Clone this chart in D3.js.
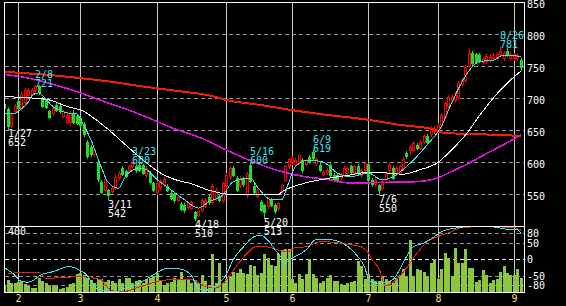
<!DOCTYPE html>
<html>
<head>
<meta charset="utf-8">
<script src="https://cdn.jsdelivr.net/npm/d3@7"></script>
<style>
html, body { margin: 0; padding: 0; background: #000; }
svg { display: block; }
text { font-family: "DejaVu Sans Mono", monospace; font-size: 10px; }
</style>
</head>
<body>
<svg id="chart" width="566" height="306"></svg>
<script>
const dates = ["1/26","1/27","1/28","1/31",
 "2/1","2/2","2/3","2/4","2/7","2/8","2/9","2/10","2/14","2/15","2/16","2/17","2/18","2/21","2/22","2/24","2/25","2/28",
 "3/1","3/2","3/3","3/4","3/7","3/8","3/9","3/10","3/11","3/14","3/15","3/16","3/17","3/18","3/22","3/23","3/24","3/25","3/28","3/29","3/30","3/31",
 "4/1","4/4","4/5","4/6","4/7","4/8","4/11","4/12","4/13","4/14","4/15","4/18","4/19","4/20","4/21","4/22","4/25","4/26","4/27","4/28",
 "5/2","5/6","5/9","5/10","5/11","5/12","5/13","5/16","5/17","5/18","5/19","5/20","5/23","5/24","5/25","5/26","5/27","5/30","5/31",
 "6/1","6/2","6/3","6/6","6/7","6/8","6/9","6/10","6/13","6/14","6/15","6/16","6/17","6/20","6/21","6/22","6/23","6/24","6/27","6/28","6/29","6/30",
 "7/1","7/4","7/5","7/6","7/7","7/8","7/11","7/12","7/13","7/14","7/15","7/19","7/20","7/21","7/22","7/25","7/26","7/27","7/28","7/29",
 "8/1","8/2","8/3","8/4","8/5","8/8","8/9","8/10","8/12","8/15","8/16","8/17","8/18","8/19","8/22","8/23","8/24","8/25","8/26","8/29","8/30","8/31",
 "9/1","9/2","9/5"];

const open = [690,683,657,680, 695,684,693,705,706,712,718,700,697,679,676,689,687,672,663,662,677,672,
 668,660,632,624,612,598,568,556,556,555,560,576,591,586,588,593,594,596,595,579,583,567,
 553,561,566,563,552,549,541,534,533,529,528,522,517,525,531,546,537,543,547,541,
 562,576,591,575,564,573,548,596,562,547,537,533,531,541,533,528,554,572,594,
 600,597,601,603,597,608,615,598,596,582,584,596,580,579,575,580,583,593,583,594,580,588,
 597,572,566,564,560,573,588,591,582,583,591,614,619,619,627,622,632,640,643,648,
 650,658,671,687,697,697,702,722,728,750,770,768,767,756,758,759,762,763,768,763,773,762,
 762,763,760];
const high = [692,686,676,690, 697,709,716,716,716,721,720,702,699,681,686,692,689,681,677,680,681,675,
 670,662,634,627,622,602,572,577,558,562,580,586,594,588,596,600,597,598,597,593,586,569,
 570,573,576,566,555,551,548,537,536,538,539,524,525,543,544,549,565,560,550,569,
 583,594,594,578,578,576,584,600,565,560,540,535,546,544,536,538,566,596,606,
 609,606,613,606,605,611,619,606,599,588,590,598,583,581,583,594,592,596,596,597,590,600,
 600,575,578,566,572,585,598,594,593,596,608,617,627,633,630,635,643,643,656,656,
 661,677,695,705,706,710,726,732,752,777,773,771,770,764,770,768,770,772,781,773,778,772,
 771,770,762];
const low = [681,652,655,678, 682,682,690,703,704,709,706,686,684,668,674,680,677,670,661,658,661,659,
 655,640,607,610,610,571,551,553,542,552,558,574,580,576,586,591,585,586,581,576,566,554,
 550,558,563,554,542,538,539,525,522,527,526,510,515,523,529,534,534,540,539,538,
 560,573,578,555,561,563,545,568,551,545,523,513,528,531,520,525,552,570,591,
 597,594,599,585,595,598,603,595,586,580,582,578,570,568,573,578,581,583,581,580,577,586,
 570,562,563,550,557,571,585,573,579,581,588,606,612,617,620,620,630,629,640,645,
 647,655,668,684,694,693,699,719,725,748,752,755,756,753,755,757,759,760,765,760,765,759,
 759,760,744];
const close = [684,656,674,688, 684,707,713,712,713,719,709,688,686,670,684,682,679,679,674,676,663,661,
 658,643,609,613,619,573,553,573,548,559,577,583,582,578,594,599,587,588,583,590,568,556,
 567,570,573,556,544,541,546,527,525,536,537,513,523,541,541,537,562,557,541,567,
 580,591,580,557,574,566,581,570,553,557,525,522,544,533,523,536,564,593,604,
 607,603,611,588,603,600,606,604,588,585,588,580,572,570,580,591,590,585,593,583,588,598,
 572,566,572,557,570,582,596,575,591,593,605,609,624,630,622,632,640,631,653,653,
 658,674,692,702,702,705,723,729,748,770,754,757,759,761,766,764,767,769,773,770,767,769,
 768,767,748];
const volume = [36,71,53,53,61,61,47,36,22,22,83,67,53,36,41,36,20,27,30,51,53,111,
 118,101,87,73,57,77,81,61,73,67,53,81,53,83,83,57,67,73,57,77,87,97,
 118,67,41,57,61,87,77,121,73,81,53,73,57,101,67,36,228,57,174,53,
 77,93,121,118,138,118,107,162,158,101,113,228,208,163,158,228,255,258,259,
 77,57,107,77,107,198,107,87,57,67,87,101,67,67,47,41,53,61,67,188,158,77,
 107,77,67,67,97,81,67,57,87,101,138,93,315,93,138,133,121,93,178,198,
 81,138,239,208,97,269,178,178,259,148,148,61,73,131,101,57,73,81,121,158,118,101,
 101,138,87];

// moving averages, read at [day index, price]
const maShort = [[0,676],[3,676],[5,683],[7,694],[8,704],[10,708],[12,698],[14,687],[18,677],[21,675],
 [23,657],[25,635],[28,592],[30,568],[33,559],[35,578],[39,590],[41,588],[44,573],[48,557],[52,541],
 [56,528],[59,538],[63,548],[66,569],[71,575],[73,561],[77,541],[80,541],[82,567],[84,593],[88,603],
 [92,600],[96,583],[100,577],[105,583],[109,572],[113,580],[118,603],[122,627],[126,655],[129,692],
 [132,725],[135,749],[137,757],[141,759],[144,767],[149,765]];
const maMid = [[0,702],[8,700],[13,697],[18,687],[23,679],[26,668],[30,651],[36,622],[41,599],[45,583],
 [49,573],[54,566],[59,556],[64,550],[68,549],[79,549],[80,553],[86,566],[92,573],[100,580],[105,584],
 [110,583],[115,581],[120,588],[125,599],[129,619],[133,642],[137,672],[142,706],[146,728],[149,742]];
const maLong = [[0,737],[8,730],[13,723],[22,708],[28,696],[35,683],[42,668],[49,652],[57,637],[64,619],
 [72,600],[80,585],[88,576],[93,573],[100,567],[108,568],[118,569],[125,575],[129,585],[134,598],
 [139,613],[144,627],[149,642]];
const maLonger = [[0,741],[8,738],[15,735],[22,731],[30,726],[40,718],[50,711],[60,703],[64,697],[74,689],
 [83,681],[94,673],[105,666],[114,658],[124,651],[127,645],[135,644],[143,642],[149,641]];

// oscillator, read at [day index, value]
const oscFast = [[0,-25],[3,-48],[5,-68],[7,-70],[11,-46],[14,-38],[19,-22],[21,-30],[24,-50],[26,-83],
 [28,-95],[32,-100],[35,-88],[39,-73],[43,-48],[46,-30],[48,-27],[51,-30],[54,-50],[56,-88],[58,-95],
 [61,-80],[64,-48],[66,-2],[69,38],[72,69],[74,74],[76,59],[78,30],[80,5],[81,-10],[83,3],[87,28],
 [90,61],[93,61],[96,56],[99,40],[102,8],[104,-25],[105,-60],[106,-70],[108,-73],[110,-70],[112,-63],
 [114,-33],[116,8],[118,38],[121,50],[124,69],[126,84],[131,97],[134,100],[140,100],[146,91],[148,91],[149,79]];
const oscSlow = [[1,-43],[5,-41],[10,-40],[12,-58],[21,-53],[24,-51],[26,-58],[28,-63],[30,-88],[32,-98],
 [35,-98],[38,-88],[41,-78],[44,-68],[47,-63],[54,-61],[58,-83],[61,-88],[64,-63],[68,-7],[73,40],
 [76,38],[79,28],[82,23],[84,36],[87,38],[91,54],[95,52],[99,46],[103,38],[105,20],[106,0],[108,-27],
 [110,-81],[113,-63],[116,-27],[119,18],[122,54],[125,69],[129,84],[132,97],[138,100],[147,97],[149,89]];

const priceTicks = [850, 800, 750, 700, 650, 600, 550];
const oscTicks = [80, 50, 0, -50, -80];
const volMaxLabel = "400";
const peakIdx = [1, 9, 30, 37, 55, 71, 75, 89, 108, 143];
const peakKind = ["low","high","low","high","low","high","low","high","low","high"];

const upColor = "#ff0000", downColor = "#22dd22";
const svg = d3.select("#chart");
svg.append("rect").attr("width", 566).attr("height", 306).attr("fill", "#000");

const x = d3.scaleLinear().domain([0, dates.length - 1]).range([4.13, 520.9]);
const y = d3.scaleLinear().domain([500, 850]).range([226, 2]);
const yOsc = d3.scaleLinear().domain([-100, 100]).range([292, 226.6]);
const yVol = d3.scaleLinear().domain([0, 400]).range([292, 226]);
const px = i => Math.round(x(i));
const idx = d3.range(dates.length);

const defs = svg.append("defs");
defs.append("clipPath").attr("id", "clipMain").append("rect").attr("x", 5).attr("y", 3).attr("width", 519).attr("height", 223);
defs.append("clipPath").attr("id", "clipLow").append("rect").attr("x", 5).attr("y", 226).attr("width", 519).attr("height", 66);

// grid
const grid = svg.append("g").attr("shape-rendering", "crispEdges");
grid.selectAll(".pg").data(priceTicks.slice(1)).enter().append("line")
  .attr("x1", 5).attr("x2", 524)
  .attr("y1", d => Math.round(y(d)) + 0.5).attr("y2", d => Math.round(y(d)) + 0.5)
  .attr("stroke", "#969696").attr("stroke-dasharray", "4,3");
grid.selectAll(".og").data(oscTicks).enter().append("line")
  .attr("x1", 5).attr("x2", 524)
  .attr("y1", d => Math.round(yOsc(d)) + 0.5).attr("y2", d => Math.round(yOsc(d)) + 0.5)
  .attr("stroke", d => d === 0 ? "#ffffff" : "#969696").attr("stroke-dasharray", "4,3");

const monthStarts = idx.filter(i => i > 0 && dates[i].split("/")[0] !== dates[i - 1].split("/")[0]);
grid.selectAll(".mg").data(monthStarts).enter().append("line")
  .attr("x1", i => px(i) + 0.5).attr("x2", i => px(i) + 0.5)
  .attr("y1", 2).attr("y2", 292)
  .attr("stroke", "#c8c8c8");

// volume
svg.append("g").attr("clip-path", "url(#clipLow)").attr("shape-rendering", "crispEdges")
  .selectAll("rect").data(idx).enter().append("rect")
  .attr("x", i => px(i) - 1).attr("width", 3)
  .attr("y", i => Math.round(yVol(volume[i])))
  .attr("height", i => 292 - Math.round(yVol(volume[i])))
  .attr("fill", "#8cc63f");

// candles
const cg = svg.append("g").attr("clip-path", "url(#clipMain)").attr("shape-rendering", "crispEdges");
cg.selectAll(".wick").data(idx).enter().append("line")
  .attr("x1", i => px(i) + 0.5).attr("x2", i => px(i) + 0.5)
  .attr("y1", i => Math.round(y(high[i]))).attr("y2", i => Math.round(y(low[i])) + 1)
  .attr("stroke", i => close[i] >= open[i] ? upColor : downColor);
cg.selectAll(".up").data(idx.filter(i => close[i] >= open[i])).enter().append("rect")
  .attr("x", i => px(i) - 0.5).attr("width", 2)
  .attr("y", i => Math.round(y(close[i])) + 0.5)
  .attr("height", i => Math.max(1, Math.round(y(open[i])) - Math.round(y(close[i]))))
  .attr("fill", "#000").attr("stroke", upColor);
cg.selectAll(".down").data(idx.filter(i => close[i] < open[i])).enter().append("rect")
  .attr("x", i => px(i) - 1).attr("width", 3)
  .attr("y", i => Math.round(y(open[i])))
  .attr("height", i => Math.max(1, Math.round(y(close[i])) - Math.round(y(open[i])) + 1))
  .attr("fill", downColor);

// moving averages
const maLine = d3.line().x(d => x(d[0])).y(d => y(d[1])).curve(d3.curveMonotoneX);
const mg = svg.append("g").attr("clip-path", "url(#clipMain)").attr("fill", "none");
mg.append("path").attr("d", maLine(maLonger)).attr("stroke", "#f02000").attr("stroke-width", 2).attr("shape-rendering", "crispEdges");
mg.append("path").attr("d", maLine(maLong)).attr("stroke", "#e010e0").attr("stroke-width", 1.6).attr("shape-rendering", "crispEdges");
mg.append("path").attr("d", maLine(maMid)).attr("stroke", "#ffffff").attr("stroke-width", 1).attr("shape-rendering", "crispEdges");
mg.append("path").attr("d", maLine(maShort)).attr("stroke", "#40e0f0").attr("stroke-width", 1).attr("shape-rendering", "crispEdges");

// oscillator
const oscLine = d3.line().x(d => x(d[0])).y(d => yOsc(d[1])).curve(d3.curveMonotoneX);
const og = svg.append("g").attr("clip-path", "url(#clipLow)").attr("fill", "none").attr("shape-rendering", "crispEdges");
og.append("path").attr("d", oscLine(oscSlow)).attr("stroke", "#f02000");
og.append("path").attr("d", oscLine(oscFast)).attr("stroke", "#40e0f0");

// frame
const frame = svg.append("g").attr("stroke", "#fff").attr("shape-rendering", "crispEdges");
[[4.5, 2, 4.5, 293], [524.5, 2, 524.5, 293], [4, 2.5, 525, 2.5], [4, 226.5, 525, 226.5], [4, 292.5, 525, 292.5]]
  .forEach(s => frame.append("line").attr("x1", s[0]).attr("y1", s[1]).attr("x2", s[2]).attr("y2", s[3]));

// axis labels
svg.selectAll(".pl").data(priceTicks).enter().append("text")
  .attr("x", 527).attr("y", d => Math.round(y(d)) + 6)
  .attr("fill", "#fff").text(d => d);
svg.selectAll(".ol").data(oscTicks).enter().append("text")
  .attr("x", 527).attr("y", d => Math.round(yOsc(d)) + 3.6)
  .attr("fill", "#fff").text(d => d);
svg.append("text").attr("x", 8).attr("y", 235).attr("fill", "#fff").text(volMaxLabel);
svg.selectAll(".ml").data(monthStarts).enter().append("text")
  .attr("x", i => px(i) + 0.5).attr("y", 302).attr("text-anchor", "middle")
  .attr("fill", "#f0e080").text(i => dates[i].split("/")[0]);

// peak / trough labels
const lab = svg.append("g");
peakIdx.forEach((i, k) => {
  const isHigh = peakKind[k] === "high";
  const v = isHigh ? high[i] : low[i];
  const yy = y(v);
  const col = isHigh ? "#40e0f0" : "#ffffff";
  const y1 = isHigh ? yy - 7 : yy + 8.5;
  lab.append("text").attr("x", px(i)).attr("y", y1).attr("fill", col).text(dates[i]);
  lab.append("text").attr("x", px(i)).attr("y", y1 + 9.2).attr("fill", col).text(v);
});
</script>
</body>
</html>
